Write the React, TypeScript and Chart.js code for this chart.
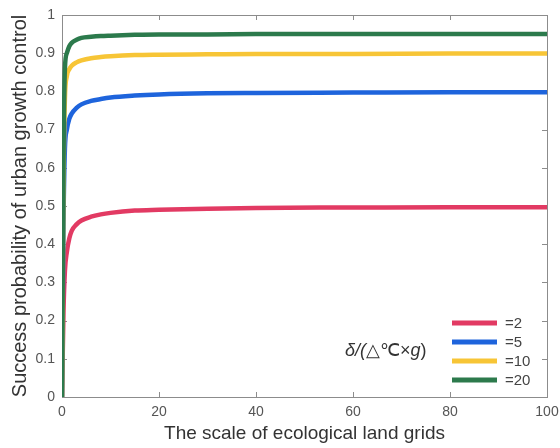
import React, { useEffect, useRef } from 'react';
import { Chart, registerables } from 'chart.js';

Chart.register(...registerables);

const xValues = [0, 0.3, 0.6, 1, 1.5, 2, 3, 4, 6, 8, 10, 15, 20, 30, 40, 60, 80, 100];
const delta2 = [0, 0.22, 0.33, 0.38, 0.415, 0.435, 0.452, 0.462, 0.472, 0.478, 0.482, 0.488, 0.49, 0.493, 0.495, 0.496, 0.497, 0.497];
const delta5 = [0, 0.45, 0.65, 0.7, 0.728, 0.742, 0.757, 0.766, 0.775, 0.78, 0.784, 0.789, 0.792, 0.795, 0.796, 0.797, 0.798, 0.798];
const delta10 = [0, 0.55, 0.78, 0.84, 0.858, 0.867, 0.876, 0.881, 0.887, 0.89, 0.892, 0.895, 0.896, 0.897, 0.898, 0.898, 0.899, 0.899];
const delta20 = [0, 0.6, 0.86, 0.9, 0.918, 0.927, 0.935, 0.94, 0.943, 0.945, 0.946, 0.948, 0.949, 0.949, 0.95, 0.95, 0.95, 0.95];

const seriesLabels = ['=2', '=5', '=10', '=20'];
const seriesColors = ['#e23a63', '#1e64dc', '#f7c536', '#2c7a4c'];
const xTicks = [0, 20, 40, 60, 80, 100];
const yTicks = [0, 0.1, 0.2, 0.3, 0.4, 0.5, 0.6, 0.7, 0.8, 0.9, 1];
const xTitle = 'The scale of ecological land grids';
const yTitle = 'Success probability of urban growth control';

const FONT = '"Liberation Sans", Arial, Helvetica, sans-serif';

const boxPlugin = {
  id: 'boxTicks',
  beforeDatasetsDraw(chart: any) {
    const { ctx, chartArea, scales } = chart;
    const { left, right, top, bottom } = chartArea;
    ctx.save();
    ctx.strokeStyle = '#8c8c8c';
    ctx.lineWidth = 1;
    ctx.strokeRect(Math.round(left) + 0.5, Math.round(top) + 0.5, Math.round(right - left), Math.round(bottom - top));
    const len = 5;
    ctx.beginPath();
    xTicks.forEach((v) => {
      const px = Math.round(scales.x.getPixelForValue(v)) + 0.5;
      ctx.moveTo(px, bottom);
      ctx.lineTo(px, bottom - len);
      ctx.moveTo(px, top);
      ctx.lineTo(px, top + len);
    });
    yTicks.forEach((v) => {
      const py = Math.round(scales.y.getPixelForValue(v)) + 0.5;
      ctx.moveTo(left, py);
      ctx.lineTo(left + len, py);
      ctx.moveTo(right, py);
      ctx.lineTo(right - len, py);
    });
    ctx.stroke();
    ctx.restore();
  },
  afterDraw(chart: any) {
    const { ctx } = chart;
    ctx.save();
    const x0 = 452;
    const x1 = 497;
    const ys = [323, 342, 361, 380];
    ctx.lineCap = 'butt';
    seriesLabels.forEach((lab, i) => {
      ctx.strokeStyle = seriesColors[i];
      ctx.lineWidth = 5;
      ctx.beginPath();
      ctx.moveTo(x0, ys[i]);
      ctx.lineTo(x1, ys[i]);
      ctx.stroke();
      ctx.fillStyle = '#444';
      ctx.font = `15px ${FONT}`;
      ctx.textAlign = 'left';
      ctx.textBaseline = 'middle';
      ctx.fillText(lab, 505, ys[i] + 1);
    });
    // legend title
    let tx = 345;
    const ty = 351;
    ctx.fillStyle = '#333';
    ctx.textBaseline = 'middle';
    const parts: [string, boolean][] = [['δ/(', true], ['△℃×', false], ['g', true], [')', false]];
    parts.forEach(([t, it]) => {
      ctx.font = `${it ? 'italic ' : ''}18px ${FONT}`;
      ctx.fillText(t, tx, ty);
      tx += ctx.measureText(t).width;
    });
    ctx.restore();
  },
};

export default function App() {
  const ref = useRef<HTMLCanvasElement>(null);
  useEffect(() => {
    document.body.style.margin = '0';
    const series = [delta2, delta5, delta10, delta20];
    const chart = new Chart(ref.current as HTMLCanvasElement, {
      type: 'line',
      data: {
        datasets: series.map((s, i) => ({
          label: seriesLabels[i],
          data: s.map((y, j) => ({ x: xValues[j], y })),
          borderColor: seriesColors[i],
          backgroundColor: seriesColors[i],
          borderWidth: 4.5,
          pointRadius: 0,
          cubicInterpolationMode: 'monotone' as const,
          fill: false,
          order: 4 - i,
        })),
      },
      options: {
        animation: false,
        responsive: false,
        maintainAspectRatio: false,
        layout: { padding: { left: 0, right: 13, top: 15, bottom: 0 } },
        plugins: { legend: { display: false }, tooltip: { enabled: false } },
        scales: {
          x: {
            type: 'linear',
            min: 0,
            max: 100,
            afterFit: (s: any) => { s.height = 51; s.paddingRight = 0; s.paddingLeft = 0; },
            afterBuildTicks: (s: any) => { s.ticks = xTicks.map((v) => ({ value: v })); },
            grid: { display: false, drawTicks: false },
            border: { display: false },
            ticks: { color: '#555', font: { size: 14, family: FONT }, padding: 7, maxRotation: 0 },
            title: { display: true, text: xTitle, color: '#333', font: { size: 19, family: FONT }, padding: { top: 0, bottom: 3 } },
          },
          y: {
            type: 'linear',
            min: 0,
            max: 1,
            afterFit: (s: any) => { s.width = 62; s.paddingTop = 0; s.paddingBottom = 0; },
            afterBuildTicks: (s: any) => { s.ticks = yTicks.map((v) => ({ value: v })); },
            grid: { display: false, drawTicks: false },
            border: { display: false },
            ticks: {
              color: '#555',
              font: { size: 14, family: FONT },
              padding: 7,
              callback: (v: any) => String(Math.round(Number(v) * 10) / 10),
            },
            title: { display: true, text: yTitle, color: '#333', font: { size: 20, family: FONT }, padding: { top: 8, bottom: 0 } },
          },
        },
      },
      plugins: [boxPlugin],
    });
    return () => chart.destroy();
  }, []);
  return (
    <div style={{ position: 'absolute', left: 0, top: 0, width: 560, height: 448 }}>
      <canvas ref={ref} width={560} height={448} style={{ width: 560, height: 448 }} />
    </div>
  );
}
